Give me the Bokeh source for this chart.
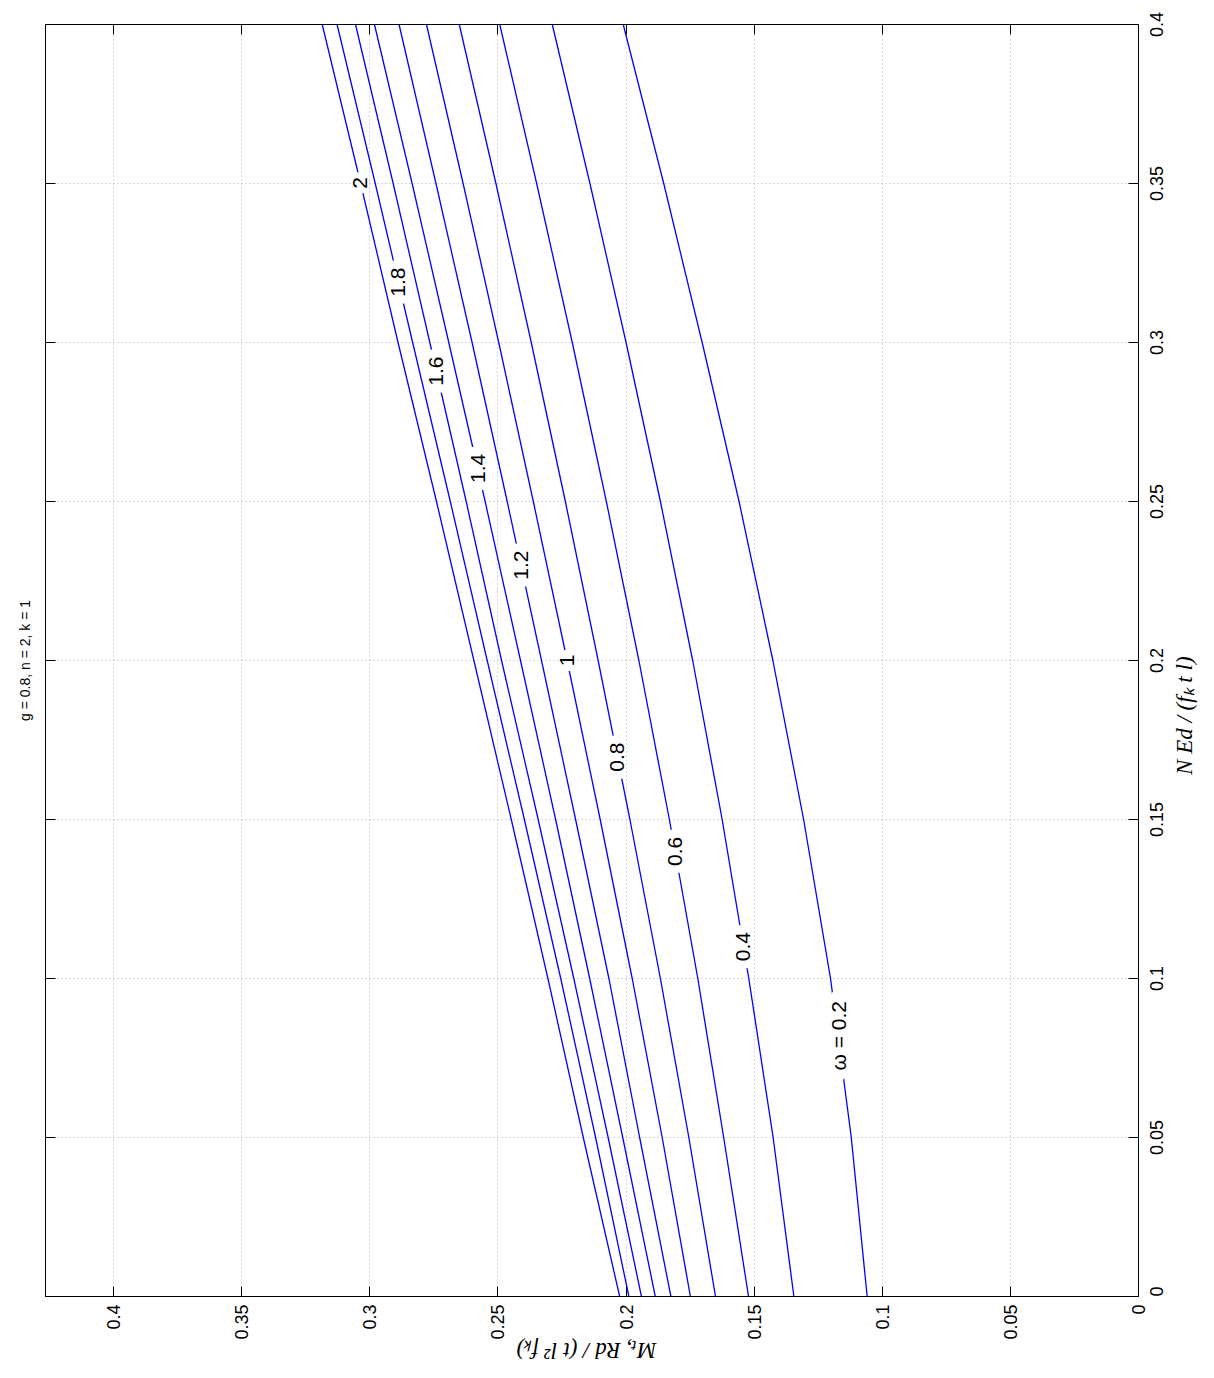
import math
import numpy as np
from bokeh.plotting import figure
from bokeh.models import (Range1d, LinearAxis, FixedTicker, CustomJSTickFormatter,
                          Title, ColumnDataSource)
from bokeh.core.properties import value
from bokeh.embed import file_html
from bokeh.resources import INLINE

# ---------------- data ----------------
N_vals = [0.0, 0.05, 0.10, 0.15, 0.20, 0.25, 0.30, 0.35, 0.40]     # N_Ed / (f_k t l)
omega_levels = [0.2, 0.4, 0.6, 0.8, 1.0, 1.2, 1.4, 1.6, 1.8, 2.0]
M_w02 = [0.1059, 0.1121, 0.1202, 0.1307, 0.1427, 0.1559, 0.1703, 0.1853, 0.2011]
M_w04 = [0.1345, 0.1426, 0.1521, 0.1625, 0.1740, 0.1866, 0.2000, 0.2141, 0.2288]
M_w06 = [0.1522, 0.1619, 0.1720, 0.1831, 0.1950, 0.2077, 0.2210, 0.2349, 0.2493]
M_w08 = [0.1651, 0.1755, 0.1866, 0.1985, 0.2109, 0.2237, 0.2370, 0.2508, 0.2651]
M_w10 = [0.1749, 0.1859, 0.1976, 0.2101, 0.2230, 0.2362, 0.2497, 0.2636, 0.2779]
M_w12 = [0.1825, 0.1947, 0.2067, 0.2197, 0.2330, 0.2464, 0.2601, 0.2742, 0.2886]
M_w14 = [0.1886, 0.2013, 0.2142, 0.2275, 0.2412, 0.2550, 0.2692, 0.2835, 0.2982]
M_w16 = [0.1940, 0.2070, 0.2204, 0.2343, 0.2486, 0.2624, 0.2766, 0.2909, 0.3056]
M_w18 = [0.1989, 0.2119, 0.2255, 0.2397, 0.2542, 0.2686, 0.2833, 0.2979, 0.3128]
M_w20 = [0.2025, 0.2167, 0.2305, 0.2448, 0.2594, 0.2740, 0.2890, 0.3036, 0.3186]
curves = [M_w02, M_w04, M_w06, M_w08, M_w10, M_w12, M_w14, M_w16, M_w18, M_w20]

label_texts = ["ω = 0.2", "0.4", "0.6", "0.8", "1", "1.2", "1.4", "1.6", "1.8", "2"]
label_N = [0.082, 0.110, 0.140, 0.1696, 0.200, 0.230, 0.2604, 0.291, 0.319, 0.3502]

tick_vals = [0, 0.05, 0.1, 0.15, 0.2, 0.25, 0.3, 0.35, 0.4]
tick_labels = ["0", "0.05", "0.1", "0.15", "0.2", "0.25", "0.3", "0.35", "0.4"]
title_text = "g = 0.8, n = 2, k = 1"
x_label = "Mₜ, Rd / (t l² fₖ)"
y_label = "N Ed / (fₖ t l)"

M_MAX = 0.4266
N_MAX = 0.4

# ---------------- layout ----------------
W, H = 1214, 1378
FL, FR, FT, FB = 45, 1138, 24, 1302   # frame edges in page pixels
PX_PER_N = (FB - FT) / N_MAX
PX_PER_M = (FR - FL) / M_MAX

p = figure(width=W, height=H, title=None,
           x_range=Range1d(M_MAX, 0), y_range=Range1d(0, N_MAX),
           y_axis_location="right", output_backend="svg", toolbar_location=None,
           min_border_left=FL, min_border_right=W - FR,
           min_border_top=FT, min_border_bottom=H - FB)
p.background_fill_color = "white"
p.border_fill_color = "white"
p.outline_line_color = "black"
p.outline_line_width = 1

ticker = FixedTicker(ticks=tick_vals)
blank = CustomJSTickFormatter(code="return '';")

def lookup_fmt(positions, texts):
    return CustomJSTickFormatter(
        args=dict(pos=positions, txt=texts),
        code="""
        for (let i = 0; i < pos.length; i++) {
            if (Math.abs(pos[i] - tick) < 1e-7) { return txt[i]; }
        }
        return '';
        """)

# character widths (em) used to centre rotated texts
SANS = {'.': 0.278}
def sans_width(t, size):
    return sum(SANS.get(c, 0.556) for c in t) * size

# bottom axis: M
xa = p.xaxis[0]
xa.ticker = ticker
xa.formatter = lookup_fmt(tick_vals, tick_labels)
xa.major_tick_in = 10
xa.major_tick_out = 0
xa.minor_tick_line_color = None
xa.axis_line_color = "black"
xa.major_tick_line_color = "black"
xa.major_label_orientation = math.pi / 2
xa.major_label_text_font = "Liberation Sans"
xa.major_label_text_font_size = "18px"
xa.major_label_text_color = "black"
xa.major_label_standoff = 8

# right axis: N (ticks only; labels on a companion axis so that they are centred)
ya = p.yaxis[0]
ya.ticker = ticker
ya.formatter = blank
ya.major_tick_in = 10
ya.major_tick_out = 0
ya.minor_tick_line_color = None
ya.axis_line_color = "black"
ya.major_tick_line_color = "black"
ya.major_label_standoff = 0

YLAB_SIZE = 18
shifted = [max(0.0, v - sans_width(t, YLAB_SIZE) / 2 / PX_PER_N)
           for v, t in zip(tick_vals, tick_labels)]
ylab_axis = LinearAxis(ticker=FixedTicker(ticks=shifted), formatter=lookup_fmt(shifted, tick_labels),
                       major_tick_line_color=None, minor_tick_line_color=None,
                       axis_line_color=None, major_label_orientation=math.pi / 2,
                       major_label_standoff=12, major_label_text_font="Liberation Sans",
                       major_label_text_font_size=f"{YLAB_SIZE}px",
                       major_label_text_color="black")
p.add_layout(ylab_axis, "right")

# axis titles (single-tick companion axes, so they can be placed like the reference)
y_title_start = (FB - 778) / PX_PER_N
y_title_axis = LinearAxis(ticker=FixedTicker(ticks=[y_title_start]),
                          formatter=lookup_fmt([y_title_start], [y_label]),
                          major_tick_line_color=None, minor_tick_line_color=None,
                          axis_line_color=None, major_label_orientation=math.pi / 2,
                          major_label_standoff=6, major_label_text_font="Liberation Serif",
                          major_label_text_font_style="italic",
                          major_label_text_font_size="23px", major_label_text_color="black")
p.add_layout(y_title_axis, "right")

x_title_anchor = (FR - 516) / PX_PER_M
x_title_axis = LinearAxis(ticker=FixedTicker(ticks=[x_title_anchor]),
                          formatter=lookup_fmt([x_title_anchor], [x_label]),
                          major_tick_line_color=None, minor_tick_line_color=None,
                          axis_line_color=None, major_label_orientation=math.pi,
                          major_label_standoff=2, major_label_text_font="Liberation Serif",
                          major_label_text_font_style="italic",
                          major_label_text_font_size="23px", major_label_text_color="black")
p.add_layout(x_title_axis, "below")

# ticks on the opposite sides (box)
for side in ("above", "left"):
    ax = LinearAxis(ticker=ticker, formatter=blank, major_tick_in=10, major_tick_out=0,
                    minor_tick_line_color=None, axis_line_color="black",
                    major_label_standoff=0)
    p.add_layout(ax, side)

p.add_layout(Title(text=title_text, align="center", text_font="Liberation Sans",
                   text_font_size="14px", text_font_style="normal",
                   text_color="#000000", standoff=25), "left")

for g in (p.xgrid[0], p.ygrid[0]):
    g.ticker = ticker
    g.grid_line_color = "#b4b4b4"
    g.grid_line_dash = "1 3"
    g.grid_line_width = 1

# ---------------- curves ----------------
for M in curves:
    p.line(x=M, y=N_vals, line_color="#0000ff", line_width=1.3)

# ---------------- contour labels ----------------
label_M = [float(np.interp(n, N_vals, c)) for n, c in zip(label_N, curves)]
gap_len = [len(t) * 11 + 10 for t in label_texts]
src = ColumnDataSource(dict(x=label_M, y=label_N, text=label_texts, h=gap_len))
p.rect(x="x", y="y", width=12, height="h", width_units="screen", height_units="screen",
       source=src, fill_color="white", line_color=None)
p.text(x="x", y="y", text="text", source=src, angle=math.pi / 2,
       text_align="center", text_baseline="middle",
       text_font=value("Liberation Sans"), text_font_size="21px", text_color="black")

open("out.html", "w").write(file_html(p, INLINE))
